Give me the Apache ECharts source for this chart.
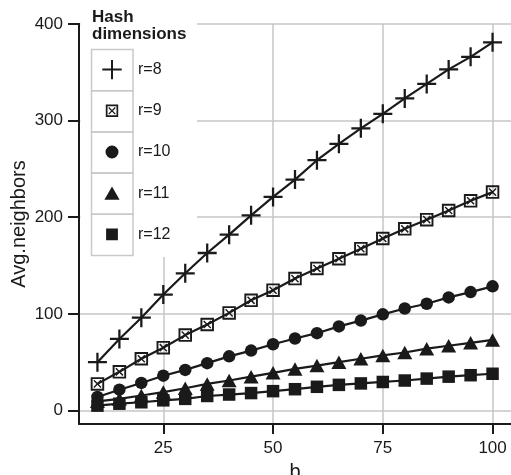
<!DOCTYPE html>
<html>
<head>
<meta charset="utf-8">
<script src="https://cdn.jsdelivr.net/npm/echarts@6/dist/echarts.min.js"></script>
<style>
html,body{margin:0;padding:0;background:#fff;}
#chart{width:511px;height:475px;}
</style>
</head>
<body>
<div id="chart"></div>
<script>
// ---- data ----
const bValues = [10, 15, 20, 25, 30, 35, 40, 45, 50, 55, 60, 65, 70, 75, 80, 85, 90, 95, 100];
const seriesNames = ['r=8', 'r=9', 'r=10', 'r=11', 'r=12'];
const r8  = [50, 74, 96, 120, 142, 163, 182, 202, 221, 239, 259, 276, 292, 307, 323, 338, 353, 366, 381];
const r9  = [27.5, 40, 53.5, 65, 78, 89, 101, 114, 124.5, 136.5, 147, 157, 167.5, 178, 188, 197.5, 207, 217, 226];
const r10 = [14, 21.5, 28.5, 36, 42, 49, 56, 62, 68.5, 74.5, 80, 87, 93, 99.5, 105.5, 110.5, 117, 122.5, 128.5];
const r11 = [9.5, 12, 15.5, 19, 23, 27.5, 31, 35, 39, 43, 46.5, 50, 53.5, 57, 60, 64, 67, 70, 73];
const r12 = [5, 7, 8.5, 10.5, 12, 15, 16.5, 18, 20, 22, 24.5, 26.5, 28, 29.5, 31, 33, 35, 36.5, 38];
const xTicks = [25, 50, 75, 100];
const yTicks = [0, 100, 200, 300, 400];
const legendTitle = 'Hash\ndimensions';
const xName = 'b';
const yName = 'Avg.neighbors';

// ---- styles ----
const INK = '#1a1a1a';
const GRID = '#c6c6c6';
const FONT = '"Liberation Sans", Arial, sans-serif';

const PLUS = 'path://M8.8,0H11.2V8.8H20V11.2H11.2V20H8.8V11.2H0V8.8H8.8Z';
const BOXX = 'path://M0,0H12V12H0Z M1.7,1.7V10.3H10.3V1.7Z M2.4,3.3L3.3,2.4L9.6,8.7L8.7,9.6Z M8.7,2.4L9.6,3.3L3.3,9.6L2.4,8.7Z';
const PAD = 'M0,0L0.001,0Z M20,20L20.001,20Z ';
const legendIcons = [
  'path://' + PAD + 'M9,0.3H11V9H19.7V11H11V19.7H9V11H0.3V9H9Z',
  'path://' + PAD + 'M3.8,3.8H16.2V16.2H3.8Z M5.5,5.5V14.5H14.5V5.5Z M6.2,7.1L7.1,6.2L13.8,12.9L12.9,13.8Z M12.9,6.2L13.8,7.1L7.1,13.8L6.2,12.9Z',
  'path://' + PAD + 'M16.5,10A6.5,6.5 0 1 1 3.5,10A6.5,6.5 0 1 1 16.5,10Z',
  'path://' + PAD + 'M10,3.2L17.6,16.6H2.4Z',
  'path://' + PAD + 'M4.1,4.1H15.9V15.9H4.1Z'
];
const symbols = [PLUS, BOXX, 'circle', 'triangle', 'rect'];
const symbolSizes = [19, 13.5, 12.5, [15, 13.5], 12.5];
const allValues = [r8, r9, r10, r11, r12];

const series = seriesNames.map((name, i) => ({
  name: name,
  type: 'line',
  data: bValues.map((b, j) => [b, allValues[i][j]]),
  symbol: symbols[i],
  symbolSize: symbolSizes[i],
  showAllSymbol: true,
  lineStyle: { color: INK, width: 2.2 },
  itemStyle: { color: INK, borderWidth: 0 },
  emphasis: { disabled: true },
  z: 3
}));

// legend cell boxes
const cellTop = 49.5, cellH = 41.2, cellL = 91.5, cellW = 41.5;
const graphics = [
  { type: 'rect', z: 1, silent: true, shape: { x: 80.5, y: 0, width: 116.5, height: 257 }, style: { fill: '#fff' } },
  { type: 'line', z: 2, silent: true, shape: { x1: 79, y1: 23, x2: 79, y2: 260 }, style: { stroke: INK, lineWidth: 2 } }
];
seriesNames.forEach((n, i) => {
  graphics.push({ type: 'rect', z: 1, silent: true,
    shape: { x: cellL, y: cellTop + i * cellH, width: cellW, height: cellH },
    style: { fill: 'none', stroke: '#c9c9c9', lineWidth: 1.5 } });
});

const chart = echarts.init(document.getElementById('chart'), null, { renderer: 'canvas' });
chart.setOption({
  animation: false,
  backgroundColor: '#fff',
  textStyle: { fontFamily: FONT },
  title: {
    text: legendTitle,
    left: 92, top: 8.5, padding: 0,
    textStyle: { fontFamily: FONT, fontSize: 17, fontWeight: 'bold', color: INK, lineHeight: 17.5 }
  },
  legend: {
    orient: 'vertical',
    left: 102, top: 59.6, padding: 0,
    itemWidth: 42, itemHeight: 20, itemGap: 21.2,
    selectedMode: false,
    data: seriesNames.map((n, i) => ({ name: n, icon: legendIcons[i] })),
    itemStyle: { borderWidth: 0 },
    textStyle: { fontFamily: FONT, fontSize: 16, color: INK }
  },
  grid: { left: 79, top: 24, right: 0, bottom: 51, containLabel: false, outerBoundsMode: 'none' },
  xAxis: {
    type: 'value', min: 5.8, max: 104.2,
    name: xName, nameLocation: 'middle', nameGap: 38, nameMoveOverlap: false,
    nameTextStyle: { fontFamily: FONT, fontSize: 20, color: INK },
    axisLine: { show: true, onZero: false, lineStyle: { color: INK, width: 2 } },
    axisTick: { show: true, customValues: xTicks, length: 10, lineStyle: { color: INK, width: 2 } },
    axisLabel: { customValues: xTicks, margin: 16, fontSize: 17, color: INK, fontFamily: FONT },
    splitLine: { show: true, lineStyle: { color: GRID, width: 1.5 } }
  },
  yAxis: {
    type: 'value', min: -14, max: 400,
    name: yName, nameLocation: 'middle', nameGap: 50, nameRotate: 90, nameMoveOverlap: false,
    nameTextStyle: { fontFamily: FONT, fontSize: 20, color: INK },
    axisLine: { show: true, onZero: false, lineStyle: { color: INK, width: 2 } },
    axisTick: { show: true, customValues: yTicks, length: 11, lineStyle: { color: INK, width: 2 } },
    axisLabel: { customValues: yTicks, margin: 16, fontSize: 17, color: INK, fontFamily: FONT },
    splitLine: { show: true, lineStyle: { color: GRID, width: 1.5 } }
  },
  graphic: graphics,
  series: series
});
</script>
</body>
</html>
